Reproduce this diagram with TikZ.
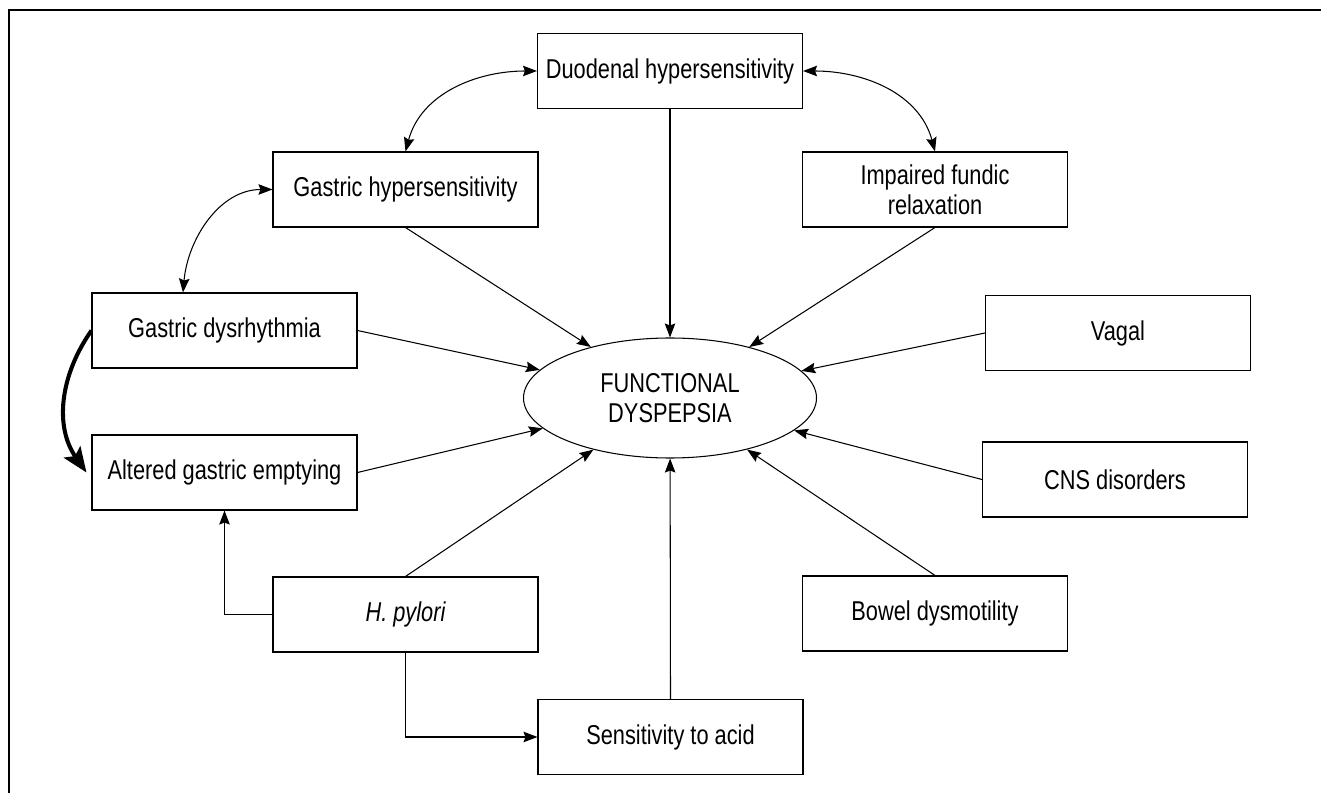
\documentclass[tikz,border=0pt]{standalone}
\usepackage{fontspec}
\setmainfont{Liberation Sans}[FakeStretch=0.8]
\usetikzlibrary{positioning, shapes.geometric, arrows.meta}

\begin{document}
\begin{tikzpicture}[
    factor/.style={rectangle, draw, line width=0.6pt, minimum width=5.3cm, minimum height=1.5cm, align=center},
    outcome/.style={ellipse, draw, line width=0.6pt, minimum width=5.86cm, minimum height=2.4cm, inner sep=0pt, align=center},
    line/.style={draw, line width=0.6pt, -{Stealth[length=2.8mm, width=2.1mm, inset=0.4mm]}},
    both/.style={draw, line width=0.6pt, {Stealth[length=2.8mm, width=2.1mm, inset=0.4mm]}-{Stealth[length=2.8mm, width=2.1mm, inset=0.4mm]}},
    heavy/.style={draw, line width=2.3pt, -{Stealth[length=5mm, width=4mm, inset=1mm]}},
    every node/.style={font=\fontsize{15.5}{17}\selectfont}
]
\useasboundingbox (0,0) rectangle (26.42,-15.86);

% Frame
\draw[line width=0.6pt] (26.42,-0.2) -- (0.18,-0.2) -- (0.18,-15.86);

% Centre
\node[outcome] (fd) at (13.4,-7.96) {FUNCTIONAL\\DYSPEPSIA};

% Factors
\node[factor] (duo) at (13.4,-1.42) {Duodenal hypersensitivity};
\node[factor] (gh) at (8.11,-3.79) {Gastric hypersensitivity};
\node[factor] (imp) at (18.7,-3.79) {Impaired fundic\\relaxation};
\node[factor] (gd) at (4.49,-6.61) {Gastric dysrhythmia};
\node[factor] (age) at (4.49,-9.45) {Altered gastric emptying};
\node[factor] (vag) at (22.36,-6.66) {Vagal};
\node[factor] (cns) at (22.3,-9.59) {CNS disorders};
\node[factor] (hp) at (8.11,-12.29) {\itshape H. pylori};
\node[factor] (bow) at (18.7,-12.27) {Bowel dysmotility};
\node[factor] (acid) at (13.41,-14.74) {Sensitivity to acid};

% Lines into the centre
\draw[line] (duo) -- (fd);
\draw[line] (gh.south) -- (fd);
\draw[line] (imp.south) -- (fd);
\draw[line] (gd.east) -- (fd);
\draw[line] (age.east) -- (fd);
\draw[line] (vag.west) -- (fd);
\draw[line] (cns.west) -- (fd);
\draw[line] (hp.north) -- (fd);
\draw[line] (bow.north) -- (fd);
\draw[line] (acid.north) -- (fd);

% Links between factors
\draw[both] (gh.north) to[out=75, in=180] (duo.west);
\draw[both] (imp.north) to[out=105, in=0] (duo.east);
\draw[both] ([xshift=-0.83cm]gd.north) to[out=85, in=180] (gh.west);
\draw[heavy] (gd.west) to[out=235, in=125] ([xshift=-0.1cm]age.west);
\draw[line] (hp.west) -| (age.south);
\draw[line] (hp.south) |- (acid.west);

\end{tikzpicture}
\end{document}
